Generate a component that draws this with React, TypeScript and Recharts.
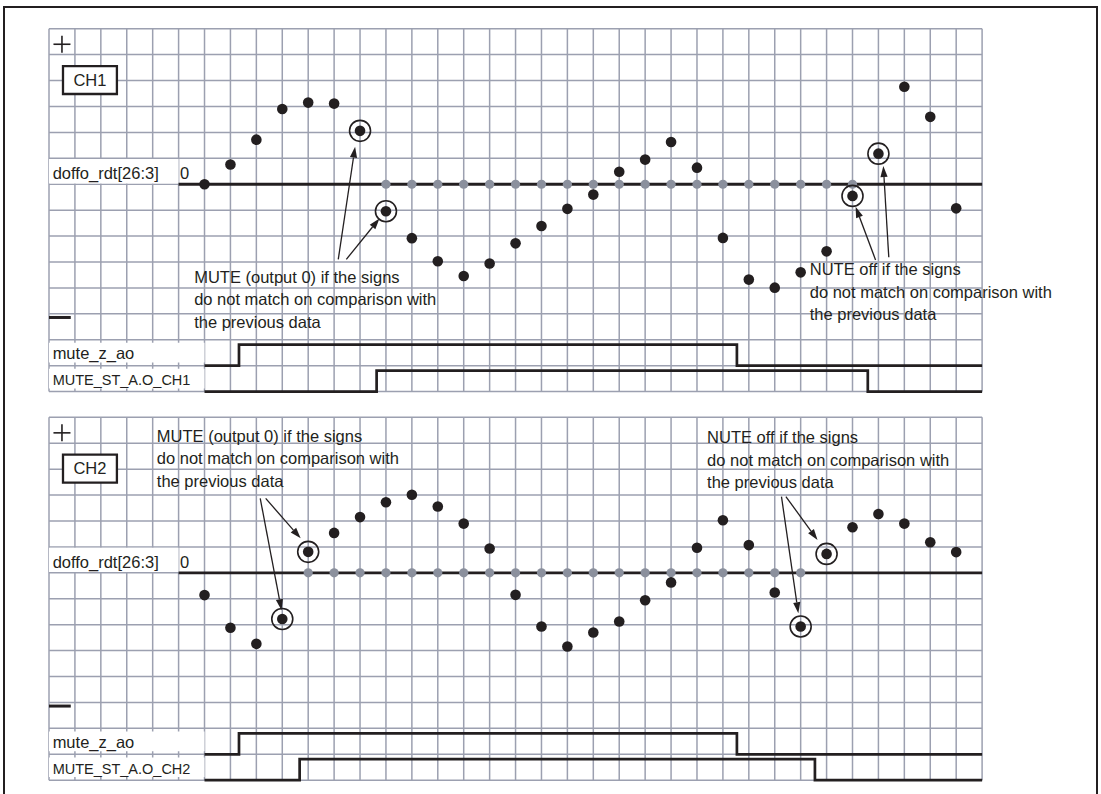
import React from "react"
import {
  ComposedChart,
  CartesianGrid,
  XAxis,
  YAxis,
  Line,
  Scatter,
  ReferenceLine,
  ReferenceArea,
  ReferenceDot,
} from "recharts"

const INK = "#231f20"
const GRID = "#9ca0b0"
const MUTED_DOT = "#8b909d"
const FONT = '"Liberation Sans", Arial, Helvetica, sans-serif'

// one grid column per sample period, rows in the same unit
const GRID_COLS = [0, 1, 2, 3, 4, 5, 6, 7, 8, 9, 10, 11, 12, 13, 14, 15, 16, 17, 18, 19, 20, 21, 22, 23, 24, 25, 26, 27, 28, 29, 30, 31, 32, 33, 34, 35, 36]
const GRID_ROWS = [-8, -7, -6, -5, -4, -3, -2, -1, 0, 1, 2, 3, 4, 5, 6]

// sample times of doffo_rdt[26:3]
const SAMPLE_T = [6, 7, 8, 9, 10, 11, 12, 13, 14, 15, 16, 17, 18, 19, 20, 21, 22, 23, 24, 25, 26, 27, 28, 29, 30, 31, 32, 33, 34, 35]

const CH1_DATA = [0, 0.76, 1.72, 2.9, 3.15, 3.11, 2.06, -1.04, -2.08, -2.97, -3.54, -3.06, -2.28, -1.61, -0.95, -0.4, 0.48, 0.95, 1.63, 0.64, -2.07, -3.68, -3.99, -3.4, -2.59, -0.45, 1.18, 3.76, 2.6, -0.93]
const CH2_DATA = [-0.86, -2.12, -2.74, -1.78, 0.81, 1.54, 2.15, 2.72, 3.01, 2.56, 1.9, 0.94, -0.85, -2.07, -2.84, -2.3, -1.88, -1.06, -0.37, 0.97, 2.03, 1.07, -0.76, -2.07, 0.73, 1.76, 2.27, 1.9, 1.18, 0.8]

// samples where the output is forced to 0 (grey dots)
const CH1_MUTED_T = [13, 14, 15, 16, 17, 18, 19, 20, 21, 22, 23, 24, 25, 26, 27, 28, 29, 30, 31]
const CH2_MUTED_T = [10, 11, 12, 13, 14, 15, 16, 17, 18, 19, 20, 21, 22, 23, 24, 25, 26, 27, 28, 29]

// sign changes (circled samples)
const CH1_CIRCLED_T = [12, 13, 31, 32]
const CH2_CIRCLED_T = [9, 10, 29, 30]

// control signals: [time, level]
const MUTE_Z_AO_CH1 = [[6, 0], [7.33, 1], [26.54, 0], [36, 0]]
const MUTE_ST_CH1 = [[6, 0], [12.64, 1], [31.59, 0], [36, 0]]
const MUTE_Z_AO_CH2 = [[6, 0], [7.33, 1], [26.54, 0], [36, 0]]
const MUTE_ST_CH2 = [[6, 0], [9.67, 1], [29.55, 0], [36, 0]]

const NOTE_MUTE = ["MUTE (output 0) if the signs", "do not match on comparison with", "the previous data"]
const NOTE_NUTE = ["NUTE off if the signs", "do not match on comparison with", "the previous data"]

const PLOT_W = 933.1
const PLOT_H = 362.9
const HIGH = 0.81

function Dot(p: any) {
  return <circle cx={p.cx} cy={p.cy} r={5.3} fill={INK} />
}

function GreyDot(p: any) {
  return <circle cx={p.cx} cy={p.cy} r={4.6} fill={MUTED_DOT} />
}

function Ring(p: any) {
  return <circle cx={p.cx} cy={p.cy} r={10.5} fill="none" stroke={INK} strokeWidth={1.6} />
}

function Arrow(p: any) {
  const { x1, y1, x2, y2 } = p
  const a = Math.atan2(y2 - y1, x2 - x1)
  const bx = x2 - 11 * Math.cos(a)
  const by = y2 - 11 * Math.sin(a)
  const nx = -Math.sin(a) * 3.6
  const ny = Math.cos(a) * 3.6
  return (
    <g>
      <line x1={x1} y1={y1} x2={bx} y2={by} stroke={INK} strokeWidth={1.3} />
      <polygon points={`${x2},${y2} ${bx + nx},${by + ny} ${bx - nx},${by - ny}`} fill={INK} />
    </g>
  )
}

function Plus(p: any) {
  return (
    <g stroke={INK} strokeWidth={1.6}>
      <line x1={p.cx - 8.5} y1={p.cy} x2={p.cx + 8.5} y2={p.cy} />
      <line x1={p.cx} y1={p.cy - 8.5} x2={p.cx} y2={p.cy + 8.5} />
    </g>
  )
}

function textAt(lines: string[], size: number) {
  return (p: any) => (
    <text x={p.cx} y={p.cy} fill={INK} fontSize={size} fontFamily={FONT}>
      {lines.map((l, i) => (
        <tspan key={i} x={p.cx} dy={i === 0 ? 0 : 22.5}>
          {l}
        </tspan>
      ))}
    </text>
  )
}

type Note = { x: number; y: number; lines: string[] }
type Arr = { from: [number, number]; to: [number, number] }

function Panel({
  name,
  values,
  mutedT,
  circledT,
  zAo,
  muteSt,
  notes,
  arrows,
  top,
  marginTop,
  height,
}: {
  name: string
  values: number[]
  mutedT: number[]
  circledT: number[]
  zAo: number[][]
  muteSt: number[][]
  notes: Note[]
  arrows: Arr[]
  top: number
  marginTop: number
  height: number
}) {
  const points = SAMPLE_T.map((t, i) => ({ x: t, y: values[i] }))
  const muted = mutedT.map((t) => ({ x: t, y: 0 }))
  const rings = circledT.map((t) => ({ x: t, y: values[SAMPLE_T.indexOf(t)] }))
  const zAoLine = zAo.map(([t, v]) => ({ x: t, y: -7 + v * HIGH }))
  const muteStLine = muteSt.map(([t, v]) => ({ x: t, y: -8 + v * HIGH }))

  return (
    <div style={{ position: "absolute", left: 0, top }}>
      <ComposedChart
        width={1101}
        height={height}
        margin={{ top: marginTop, left: 49, right: 1101 - 49 - PLOT_W, bottom: height - marginTop - PLOT_H }}
      >
        <XAxis type="number" dataKey="x" domain={[0, 36]} ticks={GRID_COLS} interval={0} hide />
        <YAxis type="number" dataKey="y" domain={[-8, 6]} ticks={GRID_ROWS} interval={0} hide />
        <CartesianGrid stroke={GRID} strokeWidth={1.5} />

        {/* white label cells */}
        <ReferenceArea x1={0} x2={5} y1={0.03} y2={0.97} fill="#fff" fillOpacity={1} stroke="none" />
        <ReferenceArea x1={0} x2={6} y1={-6.12} y2={-6.88} fill="#fff" fillOpacity={1} stroke="none" />
        <ReferenceArea x1={0} x2={6} y1={-7.12} y2={-7.88} fill="#fff" fillOpacity={1} stroke="none" />
        <ReferenceArea
          x1={0.54}
          x2={2.62}
          y1={3.48}
          y2={4.56}
          fill="#fff"
          fillOpacity={1}
          stroke={INK}
          strokeWidth={2.3}
          label={{ value: name, position: "center", fill: INK, fontSize: 16.5, fontFamily: FONT }}
        />

        <ReferenceLine segment={[{ x: 5, y: 0 }, { x: 36, y: 0 }]} stroke={INK} strokeWidth={2.8} />
        <ReferenceLine segment={[{ x: 0, y: -5.14 }, { x: 0.84, y: -5.14 }]} stroke={INK} strokeWidth={3} />
        <ReferenceDot x={0.5} y={5.4} r={0} shape={Plus} />

        <Line data={zAoLine} dataKey="y" type="stepAfter" stroke={INK} strokeWidth={2.7} dot={false} isAnimationActive={false} />
        <Line data={muteStLine} dataKey="y" type="stepAfter" stroke={INK} strokeWidth={2.7} dot={false} isAnimationActive={false} />

        <Scatter data={muted} dataKey="y" shape={GreyDot} isAnimationActive={false} />
        <Scatter data={points} dataKey="y" shape={Dot} isAnimationActive={false} />
        <Scatter data={rings} dataKey="y" shape={Ring} isAnimationActive={false} />

        {arrows.map((a, i) => (
          <ReferenceLine
            key={"a" + i}
            segment={[{ x: a.from[0], y: a.from[1] }, { x: a.to[0], y: a.to[1] }]}
            shape={Arrow}
          />
        ))}

        <ReferenceDot x={0.14} y={0.2} r={0} shape={textAt(["doffo_rdt[26:3]"], 16.5)} />
        <ReferenceDot x={5.05} y={0.2} r={0} shape={textAt(["0"], 16.5)} />
        <ReferenceDot x={0.14} y={-6.76} r={0} shape={textAt(["mute_z_ao"], 16.5)} />
        <ReferenceDot x={0.14} y={-7.76} r={0} shape={textAt(["MUTE_ST_A.O_" + name], 14.5)} />

        {notes.map((n, i) => (
          <ReferenceDot key={"n" + i} x={n.x} y={n.y} r={0} shape={textAt(n.lines, 16.5)} />
        ))}
      </ComposedChart>
    </div>
  )
}

export default function App() {
  return (
    <div
      style={{
        position: "absolute",
        left: 0,
        top: 0,
        width: 1101,
        height: 794,
        overflow: "hidden",
        background: "#fff",
        fontFamily: FONT,
      }}
    >
      <div
        style={{
          position: "absolute",
          left: 2.7,
          top: 5.7,
          width: 1095.6,
          height: 820,
          boxSizing: "border-box",
          borderTop: `2.3px solid ${INK}`,
          borderLeft: `2.3px solid ${INK}`,
          borderRight: `2.3px solid ${INK}`,
        }}
      />
      <Panel
        name="CH1"
        values={CH1_DATA}
        mutedT={CH1_MUTED_T}
        circledT={CH1_CIRCLED_T}
        zAo={MUTE_Z_AO_CH1}
        muteSt={MUTE_ST_CH1}
        notes={[
          { x: 5.6, y: -3.8, lines: NOTE_MUTE },
          { x: 29.35, y: -3.51, lines: NOTE_NUTE },
        ]}
        arrows={[
          { from: [11.16, -2.9], to: [11.81, 1.45] },
          { from: [11.47, -2.9], to: [12.75, -1.32] },
          { from: [31.89, -2.92], to: [31.12, -0.87] },
          { from: [32.4, -2.82], to: [32.19, 0.7] },
        ]}
        top={0}
        marginTop={28.7}
        height={395}
      />
      <Panel
        name="CH2"
        values={CH2_DATA}
        mutedT={CH2_MUTED_T}
        circledT={CH2_CIRCLED_T}
        zAo={MUTE_Z_AO_CH2}
        muteSt={MUTE_ST_CH2}
        notes={[
          { x: 4.16, y: 5.06, lines: NOTE_MUTE },
          { x: 25.39, y: 5.0, lines: NOTE_NUTE },
        ]}
        arrows={[
          { from: [8.15, 2.87], to: [8.97, -1.44] },
          { from: [8.36, 2.87], to: [9.71, 1.33] },
          { from: [28.26, 2.94], to: [28.91, -1.56] },
          { from: [28.43, 2.94], to: [29.65, 1.27] },
        ]}
        top={395}
        marginTop={22.3}
        height={395}
      />
    </div>
  )
}
